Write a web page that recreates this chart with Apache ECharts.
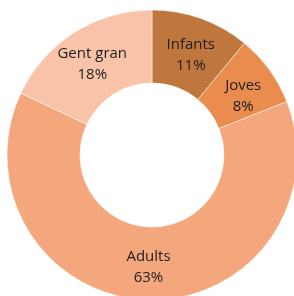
<!DOCTYPE html>
<html>
<head>
<meta charset="utf-8">
<script src="https://cdn.jsdelivr.net/npm/echarts@6/dist/echarts.min.js"></script>
<style>
  html, body { margin: 0; padding: 0; background: #fff; }
  #chart { width: 294px; height: 296px; }
</style>
</head>
<body>
<div id="chart"></div>
<script>
// grups d'edat i percentatges
var categories = ['Infants', 'Joves', 'Adults', 'Gent gran'];
var values = [11, 8, 63, 18];

var chart = echarts.init(document.getElementById('chart'));

// colors i petits ajustos de les etiquetes
var sliceStyle = {
    'Infants':   { color: '#c0773e', offset: [1, 5] },
    'Joves':     { color: '#ea8c4e', offset: [1, 7] },
    'Adults':    { color: '#f4a77c', offset: [0, 1] },
    'Gent gran': { color: '#f8c3a8', offset: [0, 3] }
};

var data = categories.map(function (name, i) {
    var s = sliceStyle[name];
    return {
        name: name,
        value: values[i],
        itemStyle: { color: s.color },
        label: { offset: s.offset }
    };
});

chart.setOption({
    animation: false,
    series: [{
        type: 'pie',
        center: [152, 155],
        radius: [72, 145],
        startAngle: 90,
        clockwise: true,
        itemStyle: { borderColor: '#fff', borderWidth: 0.5 },
        label: {
            position: 'inside',
            formatter: '{b}\n{d}%',
            color: '#1e1e1e',
            fontFamily: 'Open Sans',
            fontSize: 15,
            lineHeight: 21
        },
        labelLine: { show: false },
        data: data
    }]
});
</script>
</body>
</html>
